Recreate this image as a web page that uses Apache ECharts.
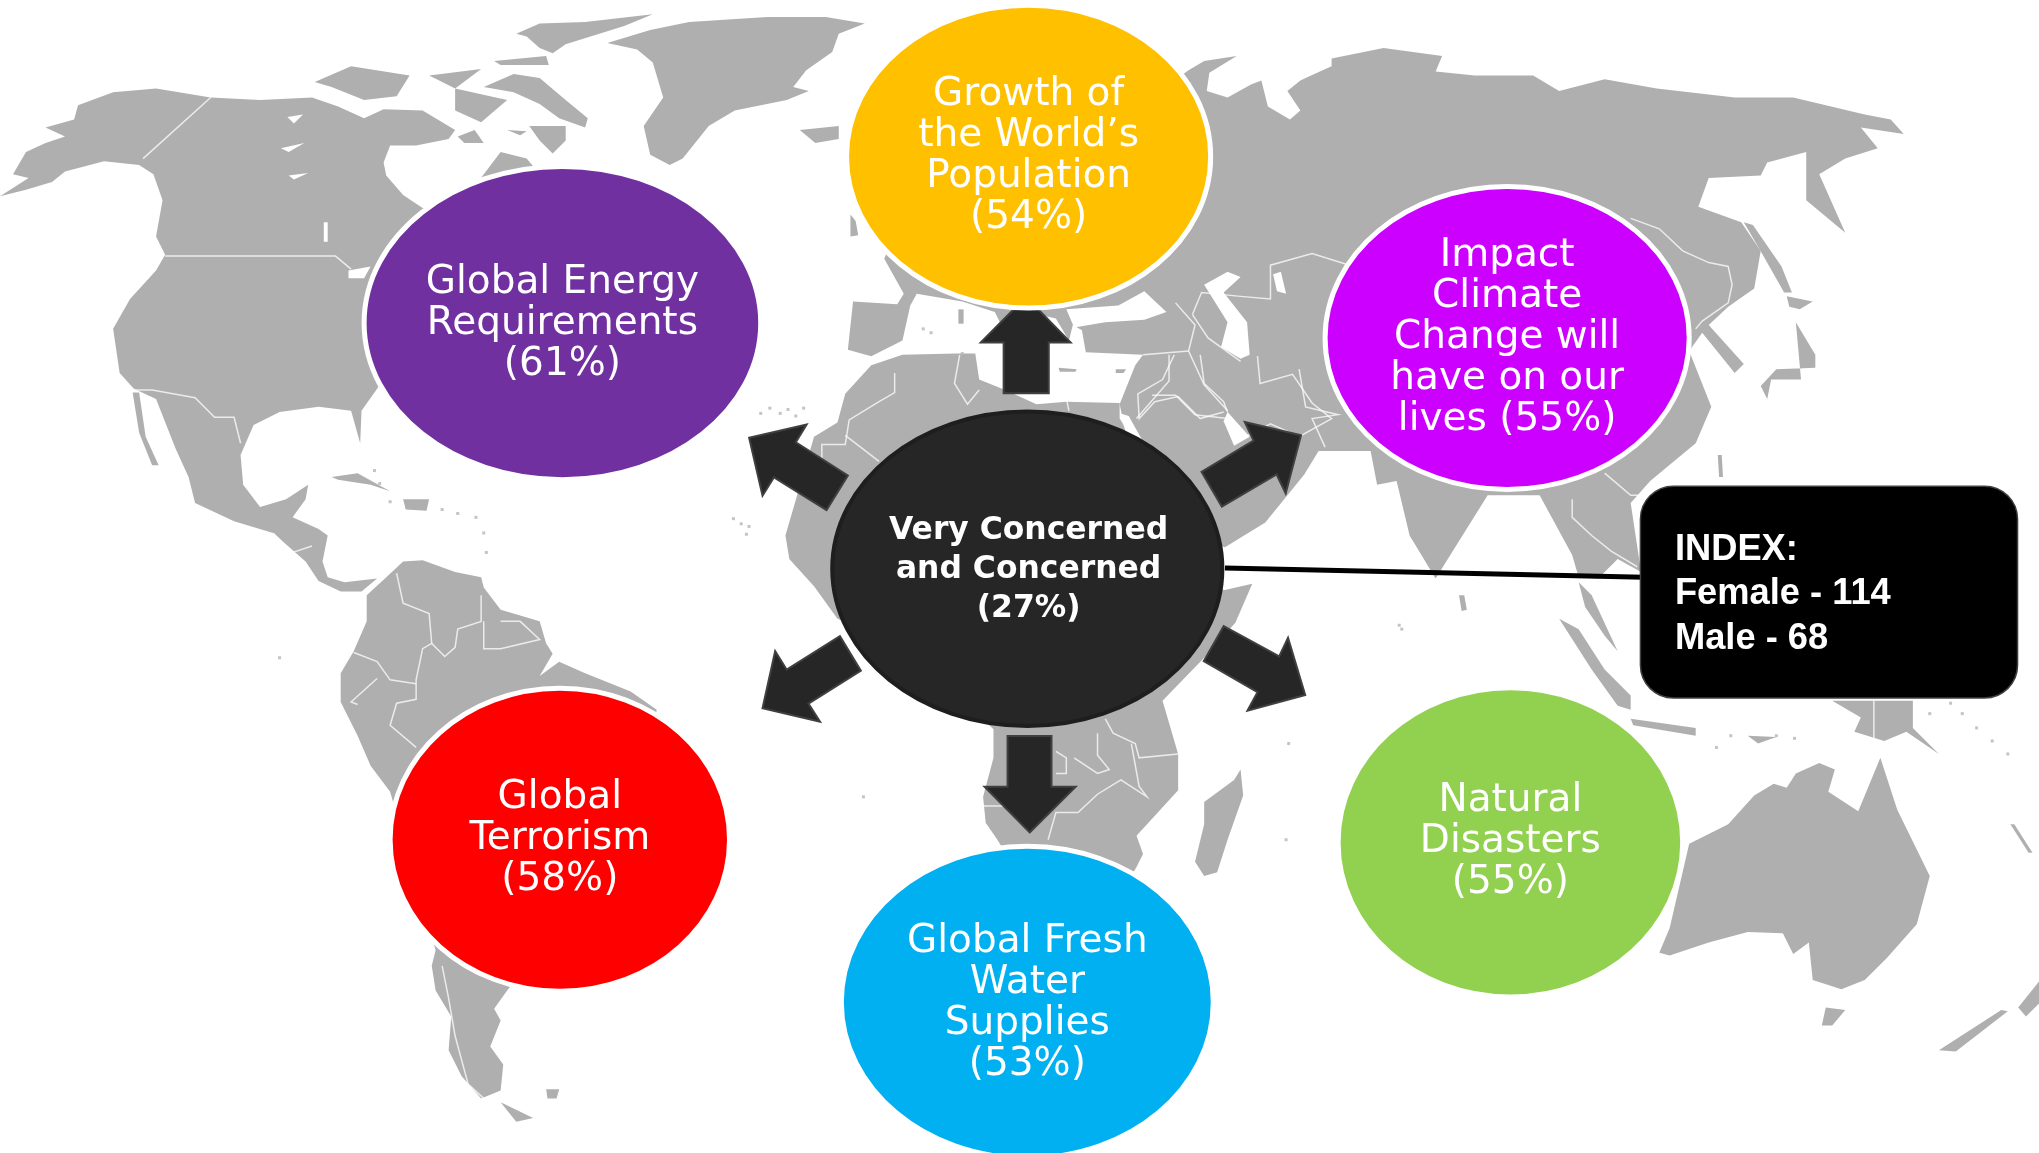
<!DOCTYPE html>
<html><head><meta charset="utf-8">
<style>html,body{margin:0;padding:0;background:#fff}#c{width:2039px;height:1153px}</style>
<script src="https://cdn.jsdelivr.net/npm/echarts@6/dist/echarts.min.js"></script>
</head><body><div id="c"></div>
<script>
// ---- survey content ----
const topicLabels = [
  "Global Energy\nRequirements\n({v}%)",
  "Growth of\nthe World\u2019s\nPopulation\n({v}%)",
  "Impact\nClimate\nChange will\nhave on our\nlives ({v}%)",
  "Global\nTerrorism\n({v}%)",
  "Global Fresh\nWater\nSupplies\n({v}%)",
  "Natural\nDisasters\n({v}%)"
];
const topicValues = [61, 54, 55, 58, 53, 55];
const topicColors = ["#7030A0", "#FFC000", "#CC00FF", "#FF0000", "#00B0F0", "#92D050"];
const centerLabel = "Very Concerned\nand Concerned\n({v}%)";
const centerValue = 27;
const indexLines = ["INDEX:", "Female - 114", "Male - 68"];

// ---- diagram layout (axis units) ----
const topicCenters = [[432.5,248.5],[791,120.5],[1159,260],[430.5,646],[790,771],[1161.5,648]];
const topicRadii = [[152.5,120.5],[140,116.5],[140,116.5],[130.5,116.5],[143,120],[132.5,119]];
const topicTextY = [249,120,260,645.5,772,648];
const arrows = [
  [[789,228.5],[823.3,263.4],[806.5,263.4],[806.5,302.6],[771.8,302.6],[771.8,263.4],[754.2,263.4]],
  [[576.1,336.7],[620.3,326.5],[612,340.2],[652,365.8],[635.6,392.4],[595.2,367.2],[586.4,381.4]],
  [[1000.5,334.8],[957.2,324.6],[964,338.9],[924,363],[939.6,389.7],[981.7,365],[988.7,379.5]],
  [[586.4,544.8],[596.1,500.9],[605,515.2],[645.9,489.4],[662,516],[621.7,541.3],[630.6,555.2]],
  [[1003.7,534.7],[990.5,490.7],[983.7,505],[941,481.7],[925.7,508.6],[967,532.5],[959.3,546.8]],
  [[791.8,640.4],[827.2,605.2],[808.6,605.2],[808.6,566.2],[774.8,566.2],[774.8,605.2],[757.1,605.2]]
];

// ---- world map outlines (axis units) ----
const northAmerica = [[0,151],[20,146],[40,140],[50,132],[80,124],[107,127],[118,134],[125,154],[120,182],[127,196],[120,208],[100,230],[87,253],[92,287],[103,299],[120,307],[135,345],[145,367],[150,387],[180,401],[210,410],[235,432],[245,447],[262,455],[278,455],[290,445],[265,448],[252,444],[248,432],[252,412],[245,407],[225,398],[235,384],[237,373],[220,384],[200,390],[187,373],[185,350],[195,327],[215,317],[245,313],[270,316],[277,341],[278,316],[290,299],[340,230],[420,140],[405,122],[385,117],[372,134],[350,165],[325,160],[310,150],[297,135],[295,125],[300,112],[320,112],[345,107],[350,100],[325,85],[295,84],[280,91],[260,82],[240,75],[200,77],[162,75],[120,68],[87,71],[60,81],[57,92],[35,98],[50,105],[35,110],[20,117],[10,134],[22,137]];
const baja = [[102,302],[107,302],[112,336],[122,358],[117,358],[107,333]];
const southAmerica = [[295,446],[310,432],[325,431],[350,440],[370,444],[372,452],[385,469],[415,478],[420,495],[425,503],[415,520],[430,509],[450,518],[485,532],[505,546],[490,640],[390,762],[380,776],[385,785],[377,805],[387,819],[385,839],[370,845],[355,828],[345,808],[347,782],[335,762],[332,743],[335,731],[300,609],[285,589],[275,566],[262,540],[262,518],[272,501],[282,478],[282,458]];
const tierraDelFuego = [[385,848],[410,860],[397,863]];
const falklands = [[420,838],[430,838],[428,845],[421,845]];
const greenland = [[467,33],[500,23],[530,17],[590,13],[635,13],[665,18],[645,26],[640,40],[620,54],[610,67],[622,70],[605,77],[565,85],[545,97],[525,122],[515,127],[500,119],[495,97],[510,75],[502,48],[490,38]];
const iceland = [[615,100],[645,97],[645,107],[627,110]];
const baffin = [[372,67],[395,57],[415,60],[435,77],[452,91],[450,98],[430,91],[415,80],[395,71]];
const ellesmere = [[397,26],[415,18],[450,17],[502,11],[480,20],[435,34],[425,41],[415,37],[405,28]];
const devon = [[380,47],[420,43],[422,50],[385,50]];
const victoria = [[242,63],[270,51],[315,58],[305,74],[280,77],[255,67]];
const banks = [[330,58],[370,53],[350,68]];
const somerset = [[350,68],[390,77],[370,94],[350,85]];
const southampton = [[407,97],[435,97],[435,108],[425,118],[415,108]];
const coats = [[352,105],[365,100],[372,110],[357,110]];
const mansel = [[390,100],[405,101],[400,104]];
const eurasia = [[914,54],[926,47],[951,43],[930,56],[928,70],[944,75],[962,65],[970,62],[975,82],[992,92],[1000,85],[990,70],[1000,62],[1004,60],[1024,51],[1024,45],[1064,37],[1109,43],[1104,55],[1134,58],[1179,58],[1199,70],[1234,61],[1274,68],[1334,75],[1379,75],[1434,88],[1454,92],[1464,103],[1431,98],[1444,114],[1419,122],[1399,134],[1419,179],[1389,154],[1389,117],[1359,125],[1354,135],[1314,137],[1306,159],[1339,171],[1354,193],[1349,222],[1329,236],[1314,250],[1341,280],[1334,287],[1309,256],[1299,270],[1316,313],[1304,341],[1269,370],[1254,387],[1262,440],[1244,430],[1229,445],[1214,444],[1209,427],[1184,381],[1144,381],[1104,445],[1084,412],[1074,370],[1059,373],[1054,347],[1014,347],[1003,365],[973,402],[942,421],[880,400],[861,311],[873,281],[879,273],[835,271],[832,254],[825,250],[822,262],[812,245],[790,240],[775,260],[765,240],[740,232],[705,226],[700,235],[694,262],[670,274],[652,269],[656,232],[690,234],[695,226],[680,199],[700,150],[850,100]];
const africa = [[670,281],[694,273],[735,272],[750,272],[753,292],[773,300],[797,311],[820,309],[861,310],[861,322],[885,360],[900,400],[941,454],[963,449],[950,479],[926,506],[894,539],[906,580],[906,608],[874,643],[879,657],[874,667],[860,690],[800,700],[767,646],[758,633],[756,613],[764,583],[764,561],[700,500],[644,476],[626,451],[607,430],[604,412],[611,388],[626,336],[644,325],[650,303]];
const madagascar = [[926,617],[949,600],[954,592],[956,612],[944,646],[936,671],[926,674],[919,663],[926,634]];
const britain = [[654,165],[658,170],[660,181],[654,182]];
const sardinia = [[737,238],[741,238],[741,249],[737,249]];
const crete = [[814,283],[828,284],[827,286],[815,286]];
const cyprus = [[858,284],[866,284],[864,287],[858,287]];
const australia = [[1276,733],[1284,714],[1299,649],[1329,634],[1349,612],[1364,603],[1374,606],[1381,595],[1399,587],[1411,592],[1406,609],[1429,624],[1446,583],[1459,623],[1484,674],[1474,711],[1451,737],[1434,754],[1416,761],[1394,754],[1391,725],[1379,734],[1371,718],[1344,717],[1314,725],[1284,735]];
const tasmania = [[1404,775],[1419,777],[1409,789],[1401,789]];
const nzSouth = [[1491,808],[1539,777],[1544,778],[1504,809]];
const nzNorth = [[1552,775],[1568,755],[1568,772],[1558,782]];
const newCaledonia = [[1546,634],[1549,634],[1563,656],[1560,656]];
const japanNorth = [[1374,228],[1394,232],[1384,238],[1376,236]];
const japanMain = [[1381,248],[1396,273],[1396,283],[1366,284],[1354,297],[1359,307],[1362,292],[1385,292]];
const sakhalin = [[1341,171],[1348,173],[1370,205],[1378,225],[1372,225],[1355,195]];
const taiwan = [[1321,350],[1324,350],[1325,367],[1322,367]];
const sriLanka = [[1122,458],[1126,458],[1128,469],[1124,470]];
const malaya = [[1214,448],[1224,458],[1244,501],[1234,489],[1219,467]];
const sumatra = [[1199,476],[1214,484],[1234,515],[1254,535],[1254,546],[1244,543],[1224,515]];
const java = [[1254,553],[1304,560],[1304,566],[1256,558]];
const sunda = [[1344,566],[1366,567],[1352,572]];
const newGuinea = [[1409,539],[1471,539],[1471,560],[1491,580],[1466,563],[1449,570],[1426,563],[1431,552]];
const cuba = [[255,367],[275,364],[300,378],[285,373],[260,369]];
const hispaniola = [[310,384],[330,384],[328,393],[312,392]];
const landPolygons = [northAmerica,baja,southAmerica,tierraDelFuego,falklands,greenland,iceland,baffin,ellesmere,devon,victoria,banks,somerset,southampton,coats,mansel,eurasia,africa,madagascar,britain,sardinia,crete,cyprus,australia,tasmania,nzSouth,nzNorth,newCaledonia,japanNorth,japanMain,sakhalin,taiwan,sriLanka,malaya,sumatra,java,sunda,newGuinea,cuba,hispaniola];

const blackSea = [[820,238],[860,235],[880,224],[897,240],[880,246],[850,248],[826,252]];
const caspianSea = [[926,219],[944,209],[954,213],[941,225],[959,248],[961,273],[954,276],[939,267],[944,248]];
const aralSea = [[979,211],[985,209],[989,226],[982,224]];
const persianGulf = [[944,317],[961,336],[949,343],[941,324]];
const redSea = [[861,318],[868,320],[882,345],[870,345]];
const lakeMichigan = [[249,171],[252,171],[252,186],[249,186]];
const lakeGreat = [[268,208],[285,205],[280,214],[268,214]];
const lakeBear = [[221,90],[233,88],[226,95]];
const lakeSlave = [[216,114],[234,110],[222,117]];
const lakeWinnipeg = [[222,135],[237,133],[226,138]];
const waterPolygons = [blackSea,caspianSea,aralSea,persianGulf,redSea,lakeMichigan,lakeGreat,lakeBear,lakeSlave,lakeWinnipeg];

const borderLines = [
  [[162,75],[110,122]],
  [[127,197],[258,197],[270,207]],
  [[102,300],[117,300],[150,306],[165,321],[180,321],[185,341]],
  [[210,410],[225,425],[240,420]],
  [[305,441],[310,464],[330,472],[332,495],[325,499],[320,523],[320,538],[305,541],[300,558],[320,575]],
  [[370,458],[370,478],[352,484],[350,498],[342,505],[332,495]],
  [[372,478],[372,499],[385,499],[415,492],[400,478],[385,478]],
  [[272,502],[290,509],[300,523],[320,526]],
  [[290,522],[270,540],[275,542]],
  [[340,743],[345,768],[350,797],[360,834],[372,845]],
  [[688,287],[688,302],[676,309],[653,323],[650,342],[632,342],[632,358]],
  [[650,335],[676,355]],
  [[738,273],[734,295],[744,311],[753,300]],
  [[820,306],[822,316]],
  [[903,273],[894,292],[875,303],[876,322],[888,309],[906,305],[923,322],[941,317]],
  [[923,273],[926,295],[941,309],[944,317]],
  [[850,553],[856,564],[873,572],[876,583],[906,580]],
  [[844,564],[844,581],[853,592],[844,595],[826,583]],
  [[812,578],[820,583],[820,595],[812,595]],
  [[870,572],[876,605],[882,613],[862,600],[844,611],[829,625],[812,625],[806,646]],
  [[756,620],[806,620]],
  [[917,242],[924,225],[954,228],[977,230],[977,204],[1009,195],[1044,206],[1056,216]],
  [[917,242],[929,260],[954,278]],
  [[967,274],[969,295],[994,288],[1009,310],[1024,322],[999,336],[977,326],[954,338]],
  [[999,284],[1004,313],[1029,319],[1009,322],[1019,344]],
  [[904,233],[919,250],[914,270],[926,296],[944,316]],
  [[879,273],[914,270]],
  [[899,273],[899,293],[874,322]],
  [[886,304],[904,304],[919,319],[944,322]],
  [[1254,168],[1276,176],[1294,193],[1314,202],[1329,205],[1332,219],[1329,233],[1309,247],[1304,253]],
  [[1209,384],[1209,398],[1224,412],[1239,424],[1259,436]],
  [[1234,364],[1254,381],[1264,381]],
  [[1441,539],[1441,570]]
];

const specks = [[585,318],[592,314],[600,318],[606,315],[612,320],[618,314],[564,399],[570,403],[574,411],[576,405],[215,506],[989,646],[991,572],[1076,481],[1078,484],[1320,575],[1331,566],[1380,568],[1366,566],[1509,549],[1520,560],[1532,570],[1544,580],[1484,549],[1500,541],[664,613],[288,362],[292,372],[300,386],[340,392],[352,395],[366,398],[372,410],[374,425],[740,272],[710,253],[716,256]];

// ---- axes span the whole page ----
const xMax = 1568, yMax = 887;

function polygonItem(list, fill, extra) {
  return function (params, api) {
    const pts = list[params.dataIndex].map(p => api.coord(p));
    return { type:'polygon', shape:{points:pts}, silent:true,
      style:Object.assign({fill:fill}, extra||{}) };
  };
}
function indexData(list){ return list.map((_,i)=>[i,0]); }
function customSeries(data, renderItem){
  return {type:'custom', coordinateSystem:'cartesian2d', data:data, renderItem:renderItem,
          silent:true, animation:false, clip:false};
}
function ellipseItem(c, r, fill, stroke, lw, api){
  const a = api.coord(c), b = api.coord([c[0]+r[0], c[1]+r[1]]);
  return {type:'ellipse', shape:{cx:a[0],cy:a[1],rx:b[0]-a[0],ry:b[1]-a[1]},
          style:{fill:fill, stroke:stroke, lineWidth:lw}};
}

const option = {
  backgroundColor:'#fff',
  animation:false,
  grid:{left:0,right:0,top:0,bottom:0},
  xAxis:{type:'value',min:0,max:xMax,show:false},
  yAxis:{type:'value',min:0,max:yMax,inverse:true,show:false},
  series:[
    customSeries(indexData(landPolygons), polygonItem(landPolygons,'#AFAFAF')),
    customSeries(indexData(waterPolygons), polygonItem(waterPolygons,'#FFFFFF')),
    customSeries(indexData(borderLines), function(params, api){
      return {type:'polyline', shape:{points:borderLines[params.dataIndex].map(p=>api.coord(p))},
              style:{fill:null, stroke:'rgba(255,255,255,0.75)', lineWidth:1.5}};
    }),
    {type:'scatter', data:specks, symbol:'rect', symbolSize:3, silent:true, animation:false,
     itemStyle:{color:'#B5B5B5'}},
    // arrows
    customSeries(indexData(arrows), polygonItem(arrows,'#262626',{stroke:'#404040',lineWidth:2})),
    // connector
    customSeries([[0,0]], function(params, api){
      const a = api.coord([942,437]), b = api.coord([1264,444]);
      return {type:'line', shape:{x1:a[0],y1:a[1],x2:b[0],y2:b[1]}, style:{stroke:'#000',lineWidth:5}};
    }),
    // topic ellipses
    customSeries(indexData(topicValues), function(params, api){
      const i = params.dataIndex;
      const c = topicCenters[i], r = topicRadii[i];
      const t = api.coord([c[0], topicTextY[i]]);
      return {type:'group', children:[
        ellipseItem(c, r, topicColors[i], '#FFFFFF', 5, api),
        {type:'text', style:{text:topicLabels[i].replace('{v}',topicValues[i]), x:t[0], y:t[1],
          align:'center', verticalAlign:'middle', fill:'#FFFFFF',
          font:'39px "DejaVu Sans"', lineHeight:41}}
      ]};
    }),
    // centre
    customSeries([[centerValue,0]], function(params, api){
      const c = [790,437.5], t = api.coord([791,438.5]);
      return {type:'group', children:[
        ellipseItem(c, [150,121], '#262626', '#1E1E1E', 4, api),
        {type:'text', style:{text:centerLabel.replace('{v}',centerValue), x:t[0], y:t[1],
          align:'center', verticalAlign:'middle', fill:'#FFFFFF',
          font:'bold 31.4px "DejaVu Sans"', lineHeight:39}}
      ]};
    }),
    // index box
    customSeries([[0,0]], function(params, api){
      const a = api.coord([1261.5,374]), b = api.coord([1551.5,537]);
      const kids = [{type:'rect', shape:{x:a[0],y:a[1],width:b[0]-a[0],height:b[1]-a[1],r:33},
        style:{fill:'#000',stroke:'#404040',lineWidth:1.5}}];
      indexLines.forEach((s,i)=>{
        const p = api.coord([1288,[423,457,491.5][i]]);
        kids.push({type:'text', style:{text:s,x:p[0],y:p[1],align:'left',verticalAlign:'middle',
          fill:'#fff',font:'bold 36.3px "Liberation Sans"'}});
      });
      return {type:'group',children:kids};
    })
  ]
};
echarts.init(document.getElementById('c'),null,{renderer:'canvas'}).setOption(option);
</script></body></html>
